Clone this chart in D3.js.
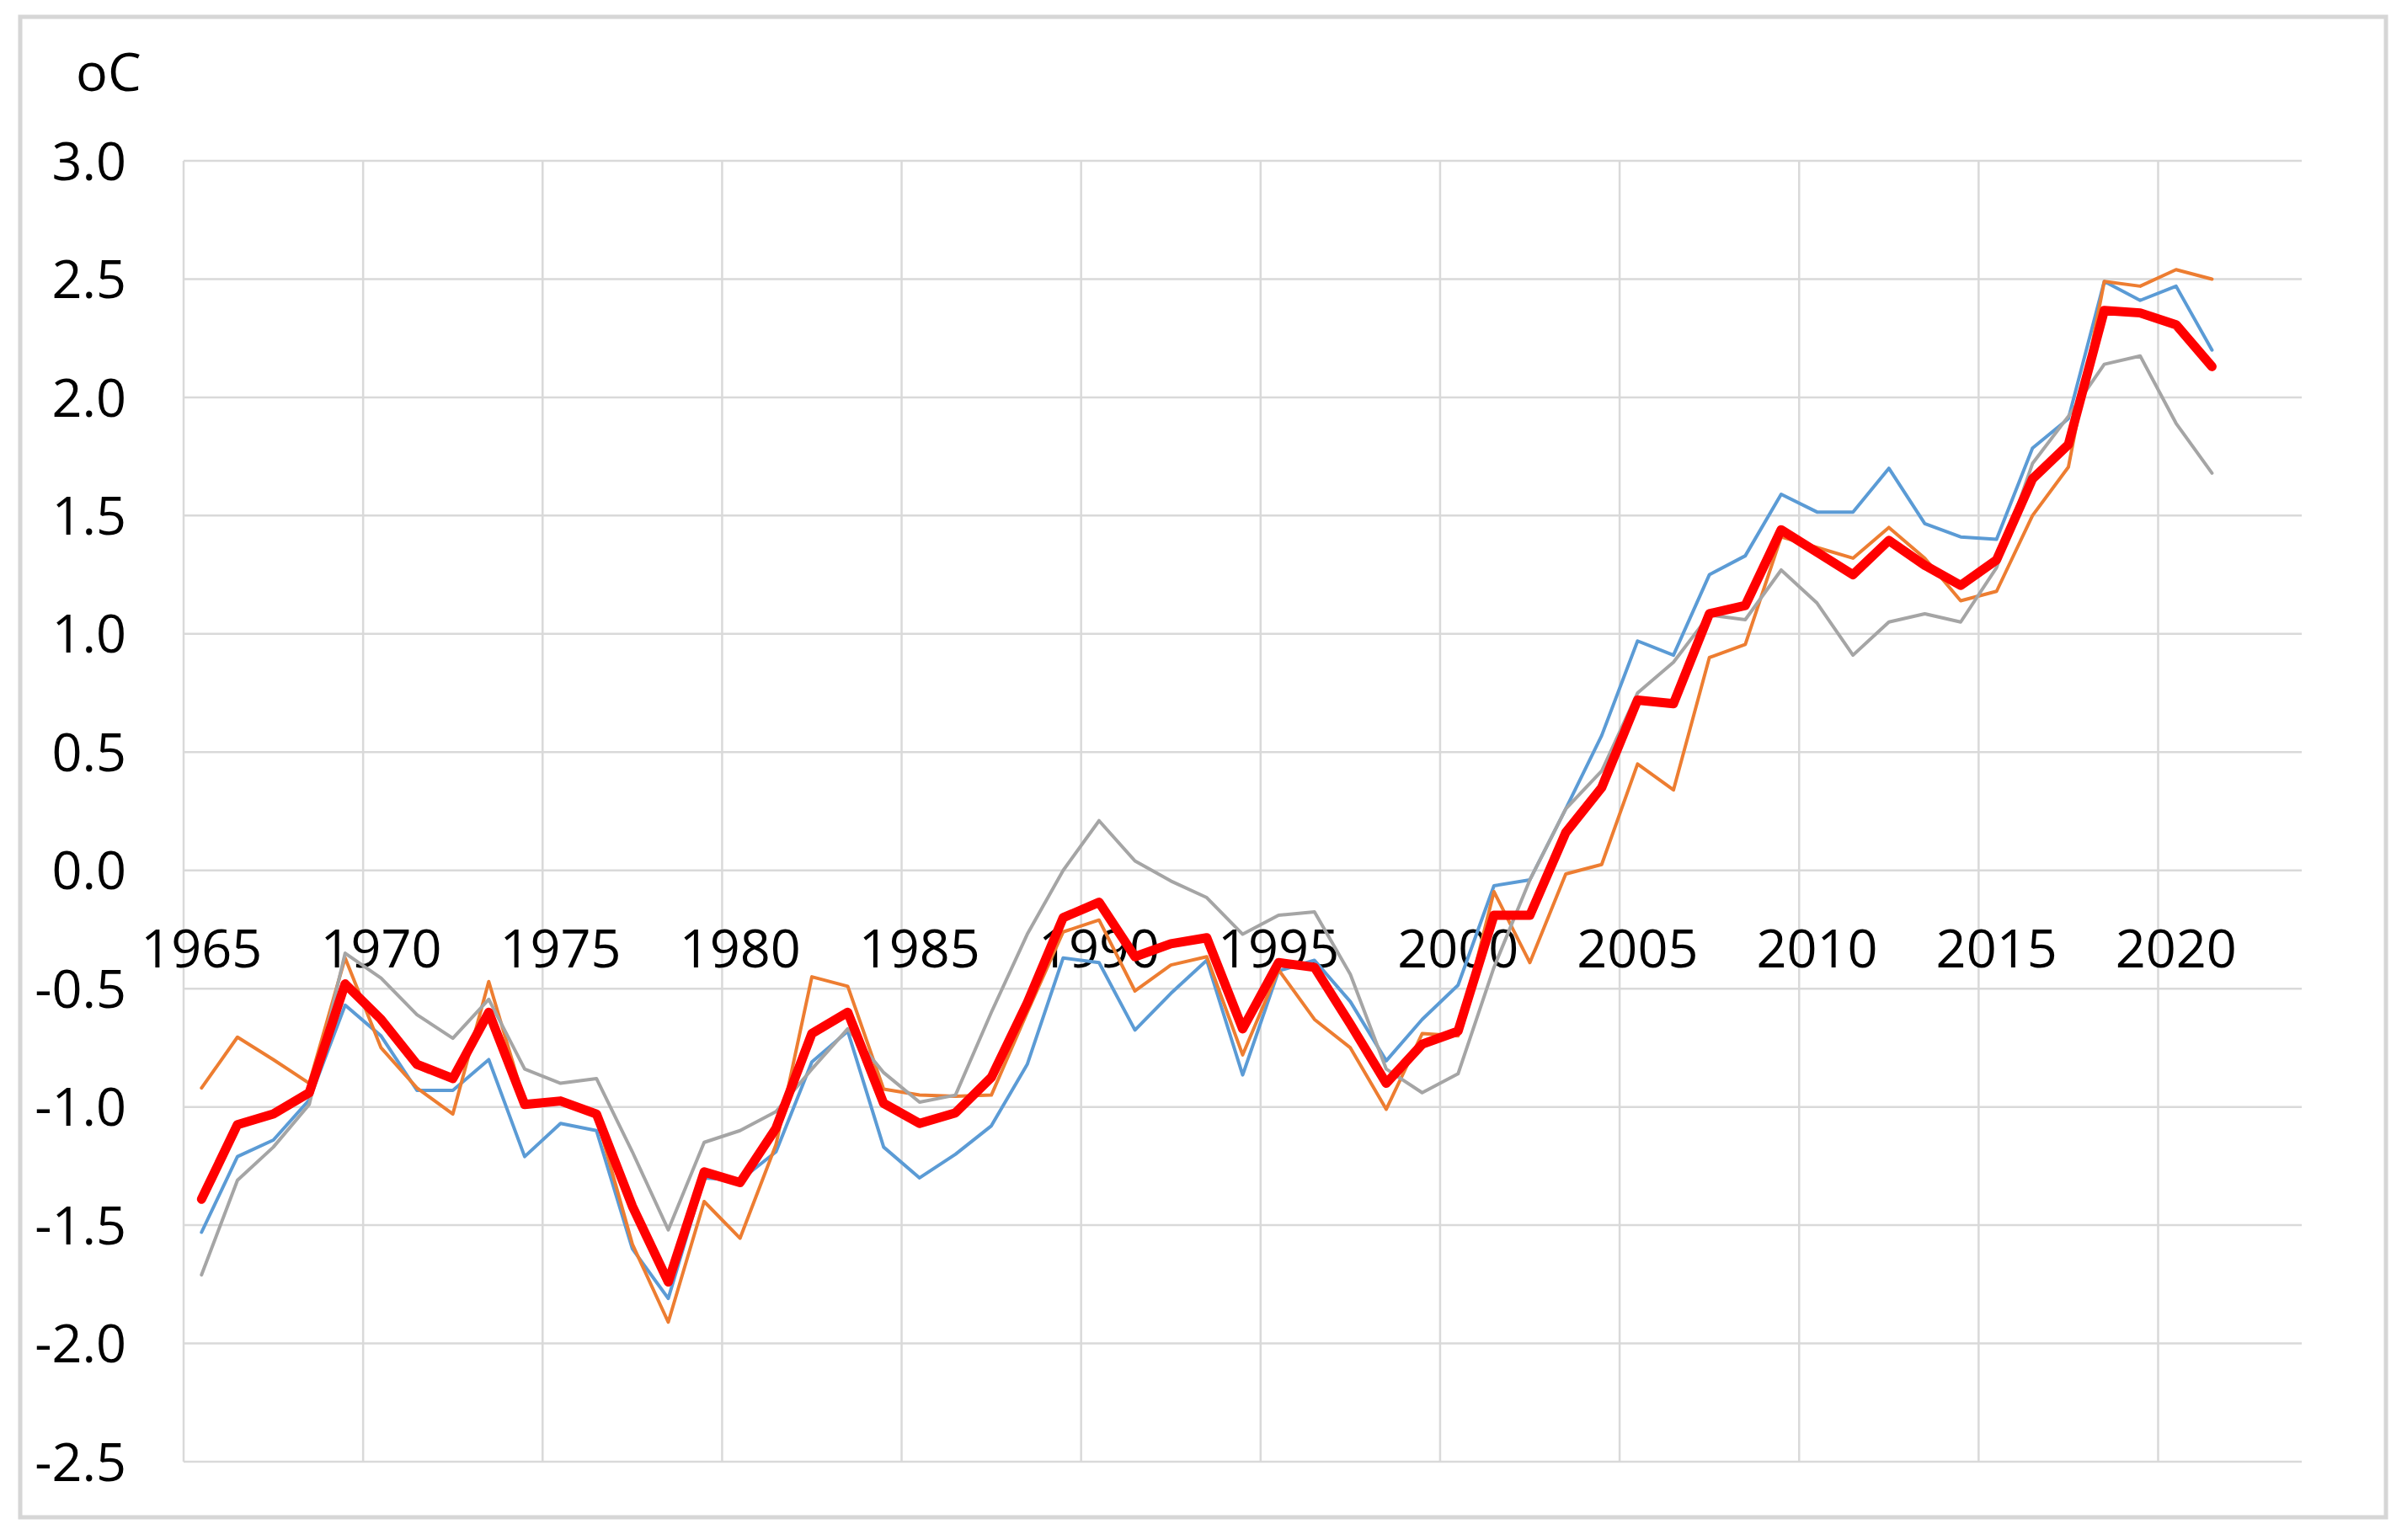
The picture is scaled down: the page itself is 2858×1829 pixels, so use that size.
<!DOCTYPE html>
<html>
<head>
<meta charset="utf-8">
<script src="https://cdn.jsdelivr.net/npm/d3@7"></script>
<style>
  html, body { margin: 0; padding: 0; background: #fff; }
  svg { display: block; }
  text { font-family: "Open Sans", "Liberation Sans", sans-serif; fill: #000; }
</style>
</head>
<body>
<script>
// ---------- data ----------
const years = d3.range(1965, 2022);          // 1965..2021 with data
const axisYears = d3.range(1965, 2024);      // category axis 1965..2023
const xTickYears = [1965, 1970, 1975, 1980, 1985, 1990, 1995, 2000, 2005, 2010, 2015, 2020];
const yTicks = [-2.5, -2.0, -1.5, -1.0, -0.5, 0.0, 0.5, 1.0, 1.5, 2.0, 2.5, 3.0];
const unitLabel = "oC";

const seriesBlue = [
  -1.53, -1.21, -1.14, -0.97, -0.57, -0.70, -0.93, -0.93, -0.80, -1.21,
  -1.07, -1.10, -1.60, -1.81, -1.30, -1.31, -1.19, -0.81, -0.68, -1.17,
  -1.30, -1.20, -1.08, -0.82, -0.37, -0.39, -0.675, -0.52, -0.38, -0.865,
  -0.425, -0.38, -0.555, -0.805, -0.63, -0.485, -0.065, -0.04, 0.26, 0.57,
  0.97, 0.91, 1.25, 1.33, 1.59, 1.515, 1.515, 1.70, 1.466, 1.41,
  1.40, 1.785, 1.91, 2.49, 2.41, 2.47, 2.20
];
const seriesOrange = [
  -0.92, -0.705, -0.80, -0.90, -0.37, -0.75, -0.92, -1.03, -0.47, -0.98,
  -0.97, -1.04, -1.58, -1.91, -1.40, -1.555, -1.16, -0.45, -0.49, -0.925,
  -0.95, -0.955, -0.95, -0.60, -0.26, -0.21, -0.51, -0.40, -0.365, -0.78,
  -0.42, -0.63, -0.75, -1.01, -0.69, -0.70, -0.09, -0.39, -0.015, 0.025,
  0.45, 0.34, 0.90, 0.955, 1.41, 1.365, 1.32, 1.45, 1.32, 1.14,
  1.18, 1.50, 1.705, 2.49, 2.47, 2.54, 2.50
];
const seriesGray = [
  -1.71, -1.31, -1.17, -0.99, -0.35, -0.455, -0.61, -0.71, -0.545, -0.84,
  -0.90, -0.88, -1.19, -1.52, -1.15, -1.10, -1.02, -0.84, -0.67, -0.855,
  -0.98, -0.95, -0.60, -0.27, 0.00, 0.21, 0.04, -0.045, -0.115, -0.27,
  -0.19, -0.175, -0.44, -0.84, -0.94, -0.86, -0.41, -0.04, 0.26, 0.42,
  0.75, 0.88, 1.08, 1.06, 1.27, 1.13, 0.91, 1.05, 1.085, 1.05,
  1.28, 1.72, 1.92, 2.14, 2.175, 1.89, 1.68
];
const seriesRed = [
  -1.39, -1.075, -1.03, -0.94, -0.48, -0.63, -0.82, -0.88, -0.60, -0.99,
  -0.975, -1.03, -1.42, -1.74, -1.275, -1.32, -1.09, -0.69, -0.60, -0.985,
  -1.07, -1.025, -0.875, -0.56, -0.20, -0.135, -0.365, -0.31, -0.285, -0.67,
  -0.39, -0.41, -0.65, -0.90, -0.735, -0.68, -0.19, -0.19, 0.16, 0.35,
  0.72, 0.705, 1.085, 1.12, 1.44, 1.345, 1.25, 1.395, 1.29, 1.205,
  1.313, 1.655, 1.80, 2.367, 2.357, 2.307, 2.13
];

const seriesList = [
  { values: seriesBlue,   color: "#5B9BD5", width: 4 },
  { values: seriesOrange, color: "#ED7D31", width: 4 },
  { values: seriesGray,   color: "#A5A5A5", width: 4 },
  { values: seriesRed,    color: "#FF0000", width: 11 }
];

// ---------- layout ----------
const W = 2858, H = 1829;
const plot = { left: 218, right: 2733, top: 191, bottom: 1736 };

const svg = d3.select("body").append("svg")
  .attr("width", W).attr("height", H);

// outer chart border
svg.append("rect")
  .attr("x", 24).attr("y", 20)
  .attr("width", 2833 - 24).attr("height", 1802 - 20)
  .attr("fill", "#fff")
  .attr("stroke", "#d6d6d6").attr("stroke-width", 5);

const x = d3.scaleBand().domain(axisYears).range([plot.left, plot.right]).padding(0);
const y = d3.scaleLinear().domain([-2.5, 3.0]).range([plot.bottom, plot.top]);
const xc = yr => x(yr) + x.bandwidth() / 2;

const grid = svg.append("g").attr("stroke", "#d9d9d9").attr("stroke-width", 2.5);

// horizontal gridlines
grid.selectAll("line.h").data(yTicks).join("line")
  .attr("x1", plot.left).attr("x2", plot.right)
  .attr("y1", d => y(d)).attr("y2", d => y(d));

// vertical gridlines at category boundaries every 5 years
grid.selectAll("line.v").data(xTickYears).join("line")
  .attr("x1", d => x(d)).attr("x2", d => x(d))
  .attr("y1", plot.top).attr("y2", plot.bottom);

// y-axis labels
svg.append("g").selectAll("text").data(yTicks).join("text")
  .attr("x", 150)
  .attr("y", d => y(d))
  .attr("dy", "0.36em")
  .attr("text-anchor", "end")
  .attr("font-size", 63)
  .text(d => d.toFixed(1));

// unit label
svg.append("text")
  .attr("x", 90).attr("y", 108)
  .attr("font-size", 63)
  .text(unitLabel);

// x-axis labels (below the zero line)
svg.append("g").selectAll("text").data(xTickYears).join("text")
  .attr("x", d => xc(d))
  .attr("y", y(0) + 93)
  .attr("dy", "0.36em")
  .attr("text-anchor", "middle")
  .attr("font-size", 63)
  .text(d => d);

// lines
const line = d3.line()
  .x((d, i) => xc(years[i]))
  .y(d => y(d));

svg.append("g").selectAll("path").data(seriesList).join("path")
  .attr("d", d => line(d.values))
  .attr("fill", "none")
  .attr("stroke", d => d.color)
  .attr("stroke-width", d => d.width)
  .attr("stroke-linejoin", "round")
  .attr("stroke-linecap", "round");
</script>
</body>
</html>
